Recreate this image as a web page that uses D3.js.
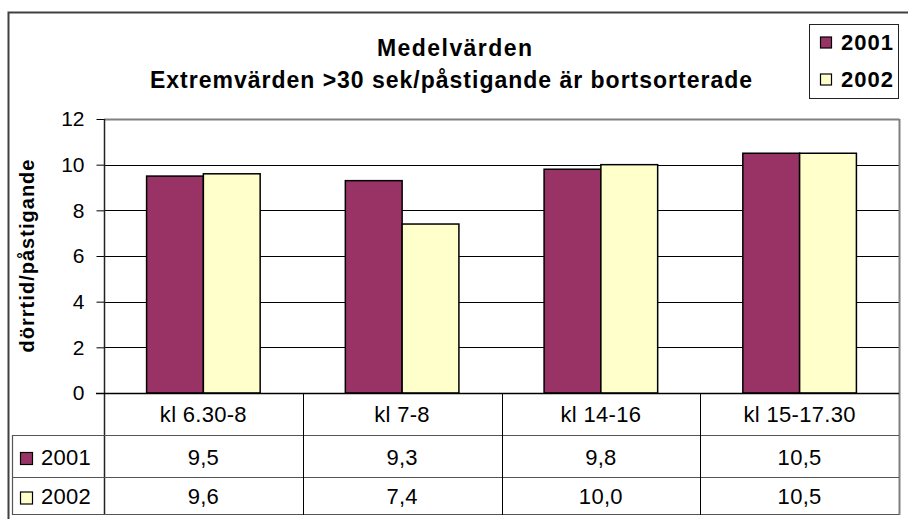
<!DOCTYPE html>
<html><head><meta charset="utf-8">
<script src="https://cdn.jsdelivr.net/npm/d3@7"></script>
<style>
html,body{margin:0;padding:0;background:#fff;}
svg{display:block;font-family:"Liberation Sans",Arial,sans-serif;}
</style></head>
<body>
<svg id="chart" width="908" height="519"></svg>
<script>
const categories = ["kl 6.30-8", "kl 7-8", "kl 14-16", "kl 15-17.30"];
const seriesNames = ["2001", "2002"];
const values2001 = [9.5, 9.3, 9.8, 10.5];
const values2002 = [9.6, 7.4, 10.0, 10.5];
const yTicks = [0, 2, 4, 6, 8, 10, 12];
const titleLines = ["Medelvärden", "Extremvärden >30 sek/påstigande är bortsorterade"];
const yTitle = "dörrtid/påstigande";
const colors = {"2001": "#993366", "2002": "#FFFFCC"};

const seriesValues = {"2001": values2001, "2002": values2002};
const svg = d3.select("#chart");

// outer frame
svg.append("rect").attr("x", 8.5).attr("y", 12.5).attr("width", 1000).attr("height", 1000)
  .attr("fill", "none").attr("stroke", "#404040").attr("stroke-width", 2);

const L = 104, R = 899, T = 119, B = 393;
const x0 = d3.scaleBand().domain(categories).range([L, R]).paddingInner(0).paddingOuter(0);
const x1 = d3.scaleBand().domain(seriesNames).range([0, x0.bandwidth()]).paddingInner(0).paddingOuter(0.75);
const y = d3.scaleLinear().domain([0, 12]).range([B, T]);

// gridlines
svg.append("g").selectAll("line").data(yTicks.filter(d => d > 0 && d < 12)).join("line")
  .attr("x1", L).attr("x2", R).attr("y1", d => Math.round(y(d)) + 0.5).attr("y2", d => Math.round(y(d)) + 0.5)
  .attr("stroke", "#000").attr("stroke-width", 1);

// plot border top/right
svg.append("line").attr("x1", L).attr("x2", R + 0.5).attr("y1", T + 0.5).attr("y2", T + 0.5).attr("stroke", "#808080").attr("stroke-width", 2);
svg.append("line").attr("x1", R + 0.5).attr("x2", R + 0.5).attr("y1", T).attr("y2", 515).attr("stroke", "#808080").attr("stroke-width", 2);

// bars
const gBars = svg.append("g");
categories.forEach((c, i) => {
  seriesNames.forEach(s => {
    const v = seriesValues[s][i];
    gBars.append("rect")
      .attr("x", x0(c) + x1(s)).attr("width", x1.bandwidth())
      .attr("y", y(v)).attr("height", y(0) - y(v))
      .attr("fill", colors[s]).attr("stroke", "#000").attr("stroke-width", 1.5);
  });
});

// y axis
const yAxis = d3.axisLeft(y).tickValues(yTicks).tickSize(8).tickPadding(12).tickFormat(d3.format("d"));
const gy = svg.append("g").attr("transform", `translate(${L + 0.5},0)`).call(yAxis);
gy.select(".domain").remove();
gy.selectAll(".tick line").attr("stroke", "#000");
gy.selectAll(".tick text").attr("font-size", 21).attr("fill", "#000").attr("font-family", "Liberation Sans, Arial, sans-serif");
svg.append("line").attr("x1", L + 0.5).attr("x2", L + 0.5).attr("y1", T).attr("y2", 515).attr("stroke", "#222").attr("stroke-width", 1.5);
// zero line
svg.append("line").attr("x1", 96).attr("x2", R).attr("y1", y(0) + 0.5).attr("y2", y(0) + 0.5).attr("stroke", "#000").attr("stroke-width", 1.5);

// y title
svg.append("text").attr("transform", "translate(34,256) rotate(-90)")
  .attr("text-anchor", "middle").attr("font-weight", "bold").attr("font-size", 20)
  .attr("textLength", 193).attr("lengthAdjust", "spacing").text(yTitle);

// title
svg.append("text").attr("x", 454.5).attr("y", 56).attr("text-anchor", "middle")
  .attr("font-weight", "bold").attr("font-size", 23).attr("textLength", 155).attr("lengthAdjust", "spacing").text(titleLines[0]);
svg.append("text").attr("x", 451).attr("y", 88).attr("text-anchor", "middle")
  .attr("font-weight", "bold").attr("font-size", 23).attr("textLength", 602).attr("lengthAdjust", "spacing").text(titleLines[1]);

// legend
svg.append("rect").attr("x", 809.5).attr("y", 24.5).attr("width", 89).attr("height", 74)
  .attr("fill", "#fff").attr("stroke", "#222").attr("stroke-width", 1);
seriesNames.forEach((s, i) => {
  const cy = 43 + i * 37;
  svg.append("rect").attr("x", 820.5).attr("y", cy - 6).attr("width", 11).attr("height", 11)
    .attr("fill", colors[s]).attr("stroke", "#000").attr("stroke-width", 1.2);
  svg.append("text").attr("x", 841).attr("y", cy + 7).attr("font-weight", "bold").attr("font-size", 22)
    .attr("textLength", 52).attr("lengthAdjust", "spacing").text(s);
});

// data table
const tbl = svg.append("g");
[435, 477, 514].forEach(yy => {
  tbl.append("line").attr("x1", 12).attr("x2", R).attr("y1", yy + 0.5).attr("y2", yy + 0.5)
    .attr("stroke", "#555").attr("stroke-width", 1.2);
});
tbl.append("line").attr("x1", 12.5).attr("x2", 12.5).attr("y1", 435).attr("y2", 515).attr("stroke", "#555").attr("stroke-width", 1.2);
categories.slice(1).forEach(c => {
  const xx = Math.round(x0(c)) + 0.5;
  tbl.append("line").attr("x1", xx).attr("x2", xx).attr("y1", 393).attr("y2", 515).attr("stroke", "#000").attr("stroke-width", 1);
});
const fmt = v => d3.format(".1f")(v).replace(".", ",");
categories.forEach(c => {
  const cx = x0(c) + x0.bandwidth() / 2;
  tbl.append("text").attr("x", cx).attr("y", 422).attr("text-anchor", "middle").attr("font-size", 22)
    .attr("letter-spacing", "0.3px").text(c);
});
const rowCenters = [456.5, 496];
seriesNames.forEach((s, i) => {
  const cy = rowCenters[i];
  tbl.append("rect").attr("x", 20.5).attr("y", cy - 4).attr("width", 12).attr("height", 12)
    .attr("fill", colors[s]).attr("stroke", "#000").attr("stroke-width", 1.2);
  tbl.append("text").attr("x", 41).attr("y", cy + 8).attr("font-size", 22).attr("letter-spacing", "0.3px").text(s);
  categories.forEach((c, j) => {
    const cx = x0(c) + x0.bandwidth() / 2;
    tbl.append("text").attr("x", cx).attr("y", cy + 8).attr("text-anchor", "middle").attr("font-size", 22)
      .attr("letter-spacing", "0.3px").text(fmt(seriesValues[s][j]));
  });
});
</script>
</body></html>
